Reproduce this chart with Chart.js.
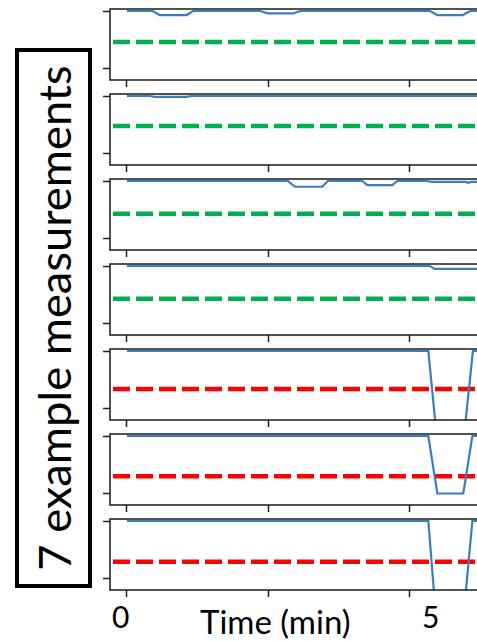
<!DOCTYPE html>
<html>
<head>
<meta charset="utf-8">
<script src="https://cdn.jsdelivr.net/npm/chart.js@4.4.1/dist/chart.umd.min.js"></script>
<style>
  html, body { margin: 0; padding: 0; background: #fff; }
  body { width: 477px; height: 641px; position: relative; overflow: hidden; font-family: Lato, "Open Sans", sans-serif; }
  canvas.panel { position: absolute; left: 100px; }
  #ybox { position: absolute; left: 15px; top: 48px; width: 77px; height: 540px; border: 4.5px solid #000; box-sizing: border-box; }
  #ylab { position: absolute; left: 50%; top: 50%; white-space: nowrap; line-height: 1; transform: translate(-50%, -50%) rotate(-90deg); color: #000; }
  .xl { position: absolute; line-height: 1; color: #000; white-space: nowrap; }
</style>
</head>
<body>
<div id="ybox"><span id="ylab">7 example measurements</span></div>
<div class="xl" id="x0" style="left:112px; top:601px; font-size:30px;">0</div>
<div class="xl" id="x5" style="left:422px; top:601px; font-size:30px;">5</div>
<div class="xl" id="xt" style="left:200px; top:605px; font-size:33px;">Time (min)</div>

<script>
// time (min) and signal values for each of the 7 measurements
const t1 = [0, 0.46, 0.58, 1.06, 1.17, 2.36, 2.5, 2.95, 3.07, 5.37, 5.5, 5.95, 6.08, 6.5];
const v1 = [1, 1, 0.93, 0.93, 1, 1, 0.96, 0.96, 1, 1, 0.93, 0.93, 1, 1];
const t2 = [0, 0.4, 0.5, 1.05, 1.15, 6.5];
const v2 = [1, 1, 0.985, 0.985, 1, 1];
const t3 = [0, 2.85, 2.98, 3.46, 3.56, 4.17, 4.26, 4.7, 4.79, 5.3, 5.4, 6.0, 6.05, 6.1, 6.5];
const v3 = [1, 1, 0.9, 0.9, 1, 1, 0.93, 0.93, 1, 1, 0.985, 0.985, 0.97, 0.985, 0.985];
const t4 = [0, 5.37, 5.45, 6.5];
const v4 = [1, 1, 0.95, 0.95];
const t5 = [0, 5.34, 5.5, 5.96, 6.13, 6.5];
const v5 = [1, 1, -0.6, -0.6, 1, 1];
const t6 = [0, 5.34, 5.5, 5.96, 6.12, 6.5];
const v6 = [1, 1, 0, 0, 1, 1];
const t7 = [0, 5.34, 5.47, 5.97, 6.12, 6.5];
const v7 = [1, 1, -0.6, -0.6, 1, 1];

// threshold per measurement (green = normal, red = anomaly)
const thresholds = [0.46, 0.48, 0.43, 0.43, 0.34, 0.30, 0.29];
const thresholdColors = ['#00b050', '#00b050', '#00b050', '#00b050', '#ff0000', '#ff0000', '#ff0000'];

const times = [t1, t2, t3, t4, t5, t6, t7];
const values = [v1, v2, v3, v4, v5, v6, v7];

const xTicks = [0, 2.5, 5];
const yTicks = [0, 1];
const X_MIN = -0.3, X_MAX = 6.61;
const Y_MIN = -0.2, Y_MAX = 1.035;

const panelTops = [9, 94, 179, 264, 349, 434, 519];

// box around the plot area
const framePlugin = {
    id: 'frame',
    afterDatasetsDraw(chart) {
        const a = chart.chartArea;
        const ctx = chart.ctx;
        ctx.save();
        ctx.strokeStyle = '#1a1a1a';
        ctx.lineWidth = 1.5;
        ctx.strokeRect(a.left, a.top, a.right - a.left, a.bottom - a.top);
        ctx.restore();
    }
};

times.forEach((t, i) => {
    const canvas = document.createElement('canvas');
    canvas.className = 'panel';
    canvas.width = 400;
    canvas.height = 86;
    canvas.style.top = (panelTops[i] - 3) + 'px';
    document.body.appendChild(canvas);

    new Chart(canvas.getContext('2d'), {
        type: 'line',
        data: {
            datasets: [{
                data: t.map((x, k) => ({ x: x, y: values[i][k] })),
                borderColor: '#3b7dbd',
                borderWidth: 2.2,
                pointRadius: 0,
                tension: 0
            }, {
                data: [{ x: X_MIN, y: thresholds[i] }, { x: X_MAX, y: thresholds[i] }],
                borderColor: thresholdColors[i],
                borderWidth: 4.5,
                borderDash: [17, 6],
                borderDashOffset: 20,
                pointRadius: 0
            }]
        },
        options: {
            responsive: false,
            animation: false,
            events: [],
            layout: { padding: { top: 3, right: 0, left: 0, bottom: 0 } },
            plugins: { legend: { display: false }, tooltip: { enabled: false } },
            scales: {
                x: {
                    type: 'linear',
                    min: X_MIN,
                    max: X_MAX,
                    afterBuildTicks: (s) => { s.ticks = xTicks.map(v => ({ value: v })); },
                    afterFit: (s) => { s.height = 12; },
                    ticks: { display: false },
                    border: { display: false },
                    grid: { drawOnChartArea: false, drawTicks: true, tickLength: 7, tickWidth: 1.5, tickColor: '#222' }
                },
                y: {
                    min: Y_MIN,
                    max: Y_MAX,
                    afterBuildTicks: (s) => { s.ticks = yTicks.map(v => ({ value: v })); },
                    afterFit: (s) => { s.width = 10; },
                    ticks: { display: false },
                    border: { display: false },
                    grid: { drawOnChartArea: false, drawTicks: true, tickLength: 7, tickWidth: 1.5, tickColor: '#222' }
                }
            }
        },
        plugins: [framePlugin]
    });
});

// size the rotated label to fill its box
const ylab = document.getElementById('ylab');
const mctx = document.createElement('canvas').getContext('2d');
mctx.font = '40px Lato';
const w = mctx.measureText(ylab.textContent).width;
ylab.style.fontSize = (40 * 505 / w).toFixed(1) + 'px';
</script>
</body>
</html>
